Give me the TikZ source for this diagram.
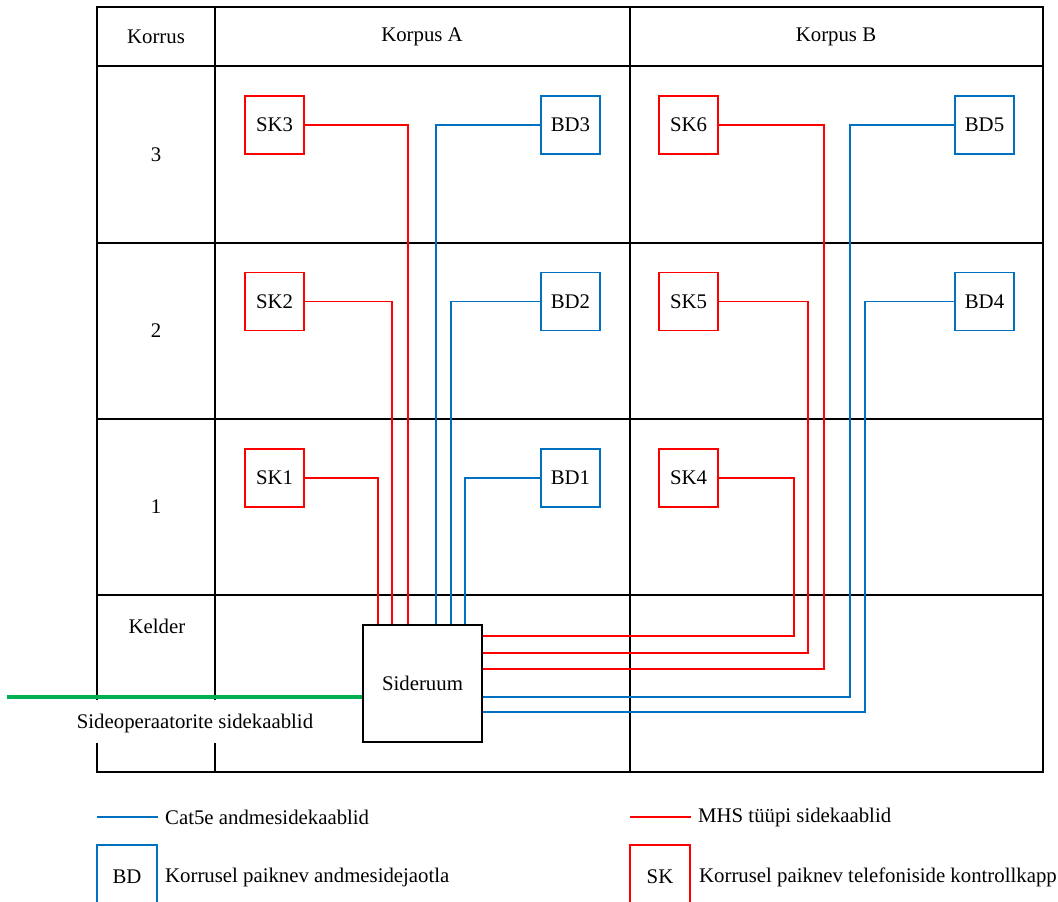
\documentclass[tikz,border=0pt]{standalone}
\usepackage{fontspec}
\setmainfont{Liberation Serif}
\definecolor{cred}{RGB}{255,0,0}
\definecolor{cblue}{RGB}{0,112,192}
\definecolor{cgreen}{RGB}{0,176,80}
\begin{document}
\begin{tikzpicture}[x=1pt,y=-1pt,
  font=\fontsize{20.8}{25}\selectfont,
  grid/.style={line width=2pt,black},
  skbox/.style={draw=cred,line width=1.8pt,minimum width=59pt,minimum height=58pt,inner sep=0pt},
  bdbox/.style={draw=cblue,line width=1.8pt,minimum width=59pt,minimum height=58pt,inner sep=0pt},
  redw/.style={cred,line width=1.5pt},
  bluew/.style={cblue,line width=1.5pt},
  lbl/.style={inner sep=0pt}]
\useasboundingbox (0,0) rectangle (1058,902);

% table
\foreach \yy in {7,66,243,419,595,772}
  \draw[grid] (96,\yy) -- (1044,\yy);
\draw[grid] (1043,6) -- (1043,773);
\draw[grid] (630,6) -- (630,773);
\draw[grid] (97,6) -- (97,700);
\draw[grid] (97,743) -- (97,773);
\draw[grid] (215,6) -- (215,700);
\draw[grid] (215,743) -- (215,773);

% headers
\node[lbl] (hk) at (156,37) {Korrus};
\node[lbl] (ha) at (422,37) {Korpus A};
\node[lbl] (hb) at (836,37) {Korpus B};
\node[lbl] (f3) at (156,155) {3};
\node[lbl] (f2) at (156,331) {2};
\node[lbl] (f1) at (156,507) {1};
\node[lbl] (fk) at (157,626) {Kelder};

% boxes
\node[skbox] (SK3) at (274.5,125) {SK3};
\node[skbox] (SK2) at (274.5,301.5) {SK2};
\node[skbox] (SK1) at (274.5,478) {SK1};
\node[bdbox] (BD3) at (570.5,125) {BD3};
\node[bdbox] (BD2) at (570.5,301.5) {BD2};
\node[bdbox] (BD1) at (570.5,478) {BD1};
\node[skbox] (SK6) at (688.5,125) {SK6};
\node[skbox] (SK5) at (688.5,301.5) {SK5};
\node[skbox] (SK4) at (688.5,478) {SK4};
\node[bdbox] (BD5) at (984.5,125) {BD5};
\node[bdbox] (BD4) at (984.5,301.5) {BD4};

\node[draw=black,line width=1.8pt,minimum width=119pt,minimum height=117pt,inner sep=0pt,fill=white] (SR) at (422.5,683.5) {Sideruum};

% Korpus A connectors
\draw[redw] (SK3.east) -| ([xshift=46pt]SR.north west);
\draw[redw] (SK2.east) -| ([xshift=30pt]SR.north west);
\draw[redw] (SK1.east) -| ([xshift=16pt]SR.north west);
\draw[bluew] (BD3.west) -| ([xshift=74pt]SR.north west);
\draw[bluew] (BD2.west) -| ([xshift=89pt]SR.north west);
\draw[bluew] (BD1.west) -| ([xshift=103pt]SR.north west);

% Korpus B connectors
\draw[redw] (SK4.east) -- ++(75,0) |- ([yshift=-12pt]SR.north east);
\draw[redw] (SK5.east) -- ++(89,0) |- ([yshift=-29pt]SR.north east);
\draw[redw] (SK6.east) -- ++(105,0) |- ([yshift=-45pt]SR.north east);
\draw[bluew] (BD5.west) -- ++(-104,0) |- ([yshift=-73pt]SR.north east);
\draw[bluew] (BD4.west) -- ++(-89,0) |- ([yshift=-88pt]SR.north east);

% operator cables
\coordinate (gstart) at (7,697);
\draw[cgreen,line width=4.5pt] (gstart) -- (gstart -| SR.west);
\node[lbl] (optxt) at (195,723) {Sideoperaatorite sidekaablid};

% legend
\coordinate (lb1) at (97,817);
\coordinate (lb2) at (158,817);
\draw[bluew] (lb1) -- (lb2);
\node[lbl,anchor=west] (lbt) at (165,817) {Cat5e andmesidekaablid};
\coordinate (lr1) at (630,817);
\coordinate (lr2) at (691,817);
\draw[redw] (lr1) -- (lr2);
\node[lbl,anchor=west] (lrt) at (698,817) {MHS tüüpi sidekaablid};

\node[bdbox,minimum width=60pt,minimum height=64pt] (lbd) at (127,877) {BD};
\node[lbl,anchor=west] (lbdt) at (165,877) {Korrusel paiknev andmesidejaotla};
\node[skbox,minimum width=60pt,minimum height=64pt] (lsk) at (660,877) {SK};
\node[lbl,anchor=west] (lskt) at (699,877) {Korrusel paiknev telefoniside kontrollkapp};
\end{tikzpicture}
\end{document}
